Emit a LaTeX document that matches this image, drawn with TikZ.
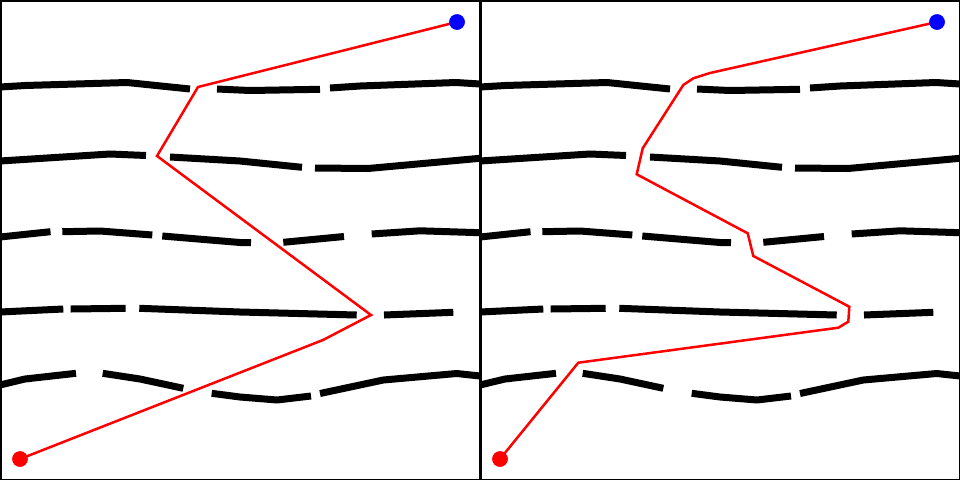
\documentclass[tikz,border=0pt]{standalone}
\usetikzlibrary{calc}
\tikzset{
  wall/.style={line width=7pt, black, line join=round},
  route/.style={line width=2.5pt, red, line join=miter},
  startdot/.style={circle, fill=red, minimum size=15.5pt, inner sep=0pt},
  goaldot/.style={circle, fill=blue, minimum size=15.5pt, inner sep=0pt},
  frame/.style={line width=1.5pt, black}
}
\newcommand{\drawwalls}{%
  % wall 1
  \draw[wall] (0,87) -- (25,85.5) -- (127,82.5) -- (190,89);
  \draw[wall] (217,89) -- (250,90.5) -- (320,89.3);
  \draw[wall] (330,88) -- (360,86) -- (456,82.5) -- (480,84);
  % wall 2
  \draw[wall] (0,161) -- (110,154) -- (146,155.5);
  \draw[wall] (170,157) -- (240,161) -- (302,167.3);
  \draw[wall] (315,168) -- (368,168.5) -- (480,158.3);
  % wall 3
  \draw[wall] (0,237) -- (50.5,231.7);
  \draw[wall] (62.3,231.7) -- (100,231) -- (152.3,235);
  \draw[wall] (162.3,236) -- (240,242.5) -- (251,242.7);
  \draw[wall] (283.3,242.3) -- (344,236.5);
  \draw[wall] (371.7,234) -- (420,230.8) -- (480,232.7);
  % wall 4
  \draw[wall] (0,312) -- (63.3,309);
  \draw[wall] (70.7,309) -- (125.7,308.3);
  \draw[wall] (139.3,308.3) -- (240,312) -- (356.7,315);
  \draw[wall] (384,315) -- (453.3,312.3);
  % wall 5
  \draw[wall] (0,385) -- (25,379) -- (76,373.3);
  \draw[wall] (102.7,373.3) -- (140,379) -- (183.3,388.3);
  \draw[wall] (211.7,393.3) -- (240,397) -- (277,400) -- (311,396);
  \draw[wall] (320,393.5) -- (383.3,380) -- (456.7,373.5) -- (480,376);
}
\begin{document}
\begin{tikzpicture}[x=1pt,y=-1pt]
\useasboundingbox (0,0) rectangle (960,480);
\fill[white] (0,0) rectangle (960,480);
% left panel
\begin{scope}
  \clip (0,0) rectangle (480,480);
  \drawwalls
  \node[startdot] (s1) at (20,459) {};
  \node[goaldot] (g1) at (457,22) {};
  \draw[route] (s1.center) -- (323,340) -- (371,315) -- (157,156) -- (198,87) -- (g1.center);
  \fill[red] (s1) circle (7.75pt);
  \fill[blue] (g1) circle (7.75pt);
\end{scope}
% right panel
\begin{scope}[xshift=480pt]
  \clip (0,0) rectangle (480,480);
  \drawwalls
  \node[startdot] (s2) at (20,459) {};
  \node[goaldot] (g2) at (457,22) {};
  \draw[route] (s2.center) -- (98.3,362.7) -- (358.3,327.7) -- (368.3,321.7) -- (369.3,306.7)
     -- (273.3,256) -- (267.7,233.3) -- (156.7,174.3) -- (162.7,148.3) -- (203.3,85)
     -- (213.3,78.3) -- (230,73) -- (g2.center);
  \fill[red] (s2) circle (7.75pt);
  \fill[blue] (g2) circle (7.75pt);
\end{scope}
\draw[frame] (0.75,0.75) rectangle (479.25,479.25);
\draw[frame] (480.75,0.75) rectangle (959.25,479.25);
\end{tikzpicture}
\end{document}
